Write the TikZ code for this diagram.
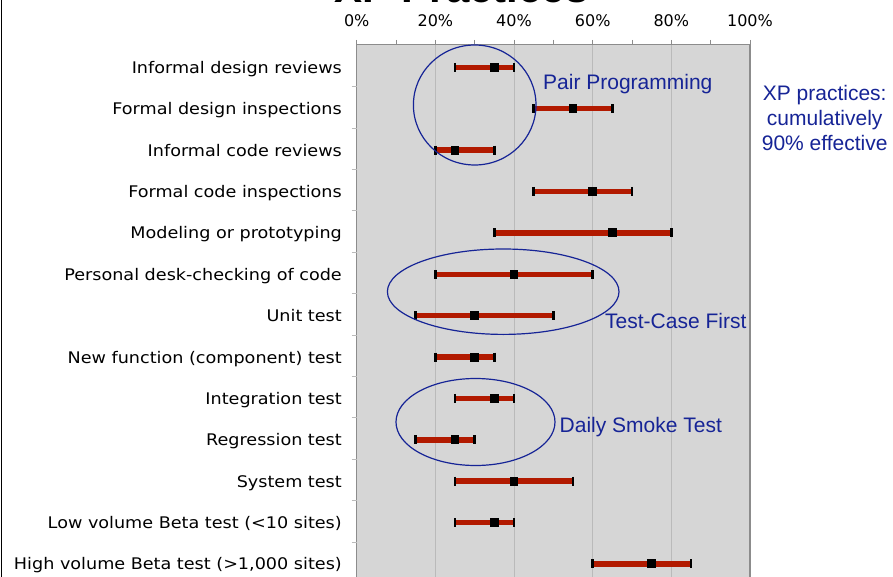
\documentclass[tikz,border=0pt]{standalone}
\usepackage{fontspec}
\setmainfont{DejaVu Sans}
\newfontfamily\labfont[FakeStretch=1.1]{DejaVu Sans}
\newfontfamily\axfont{DejaVu Sans}
\newfontfamily\annfont{Liberation Sans}
\definecolor{anncol}{RGB}{22,36,150}
\definecolor{barcol}{RGB}{178,26,0}
\definecolor{plotbg}{RGB}{214,214,214}
\definecolor{gridcol}{RGB}{186,186,186}
\definecolor{framecol}{RGB}{140,140,140}
\tikzset{
  rowlab/.style={anchor=base east, inner sep=0pt, font=\labfont\fontsize{16}{18}\selectfont},
  axlab/.style={anchor=base, inner sep=0pt, font=\axfont\fontsize{16}{18}\selectfont},
  ann/.style={inner sep=0pt, text=anncol, font=\annfont\fontsize{21}{25}\selectfont},
  ringline/.style={draw=anncol, line width=1.2pt},
  rangebar/.style={draw=barcol, line width=5.5pt},
  endcap/.style={draw=black, line width=2.6pt},
  modebox/.style={fill=black},
}
\begin{document}
\begin{tikzpicture}[x=1pt,y=-1pt]
\useasboundingbox (0,0) rectangle (893,577);
\fill[white] (0,0) rectangle (893,577);
% title (cut off at the top)
\node[anchor=base, inner sep=0pt, font=\annfont\bfseries\fontsize{42}{42}\selectfont] (title) at (461.5,3) {XP Practices};
% left page border
\draw[black, line width=1.3pt] (1.7,0) -- (1.7,577);
% plot area
\fill[plotbg] (356.7,45) rectangle (750,590);
\foreach \p in {20,40,60,80}
  \draw[gridcol, line width=1pt] ({356.7+3.933*\p},45) -- ({356.7+3.933*\p},577);
\foreach \p in {0,10,...,100}
  \draw[framecol, line width=0.8pt] ({356.7+3.933*\p},40) -- ({356.7+3.933*\p},45);
\draw[framecol, line width=1pt] (356.7,45) -- (750,45);
\draw[framecol, line width=1.2pt] (356.7,45) -- (356.7,577);
\foreach \k in {0,...,11}
  \draw[gridcol, line width=0.8pt] (351.5,{86.7+41.39*\k}) -- (356.7,{86.7+41.39*\k});
\draw[black!45, line width=2.2pt] (750,45) -- (750,577);
% axis labels
\foreach \p in {0,20,40,60,80,100}
  \node[axlab] (ax\p) at ({356.7+3.933*\p},26.7) {\p\%};
% rows
\foreach \i/\lab/\lo/\mo/\hi in {
  1/{Informal design reviews}/25/35/40,
  2/{Formal design inspections}/45/55/65,
  3/{Informal code reviews}/20/25/35,
  4/{Formal code inspections}/45/60/70,
  5/{Modeling or prototyping}/35/65/80,
  6/{Personal desk-checking of code}/20/40/60,
  7/{Unit test}/15/30/50,
  8/{New function (component) test}/20/30/35,
  9/{Integration test}/25/35/40,
  10/{Regression test}/15/25/30,
  11/{System test}/25/40/55,
  12/{Low volume Beta test (<10 sites)}/25/35/40,
  13/{High volume Beta test (>1,000 sites)}/60/75/85} {
  \pgfmathsetmacro{\yy}{67.3+41.39*(\i-1)}
  \pgfmathsetmacro{\xa}{356.7+3.933*\lo}
  \pgfmathsetmacro{\xm}{356.7+3.933*\mo}
  \pgfmathsetmacro{\xb}{356.7+3.933*\hi}
  \node[rowlab] (lab\i) at (342,\yy+6) {\lab};
  \draw[rangebar] (\xa,\yy) -- (\xb,\yy);
  \draw[endcap] (\xa,\yy-4.5) -- (\xa,\yy+4.5);
  \draw[endcap] (\xb,\yy-4.5) -- (\xb,\yy+4.5);
  \fill[modebox] (\xm-4.3,\yy-4.5) rectangle (\xm+4.3,\yy+4.5);
}
% highlight ellipses
\draw[ringline] (474.7,105) ellipse [x radius=61.3, y radius=60];
\draw[ringline] (503.2,291.7) ellipse [x radius=115.8, y radius=42.7];
\draw[ringline] (475.5,422) ellipse [x radius=79.5, y radius=43.5];
% annotations
\node[ann, anchor=base west] (pair) at (543,89.3) {Pair Programming};
\node[ann, anchor=base west] (tcf) at (605,328.3) {Test-Case First};
\node[ann, anchor=base west] (smoke) at (559.5,432.7) {Daily Smoke Test};
\node[ann, anchor=base, align=center] (xp) at (824.7,150.7) {XP practices:\\cumulatively\\90\% effective};
\end{tikzpicture}
\end{document}
